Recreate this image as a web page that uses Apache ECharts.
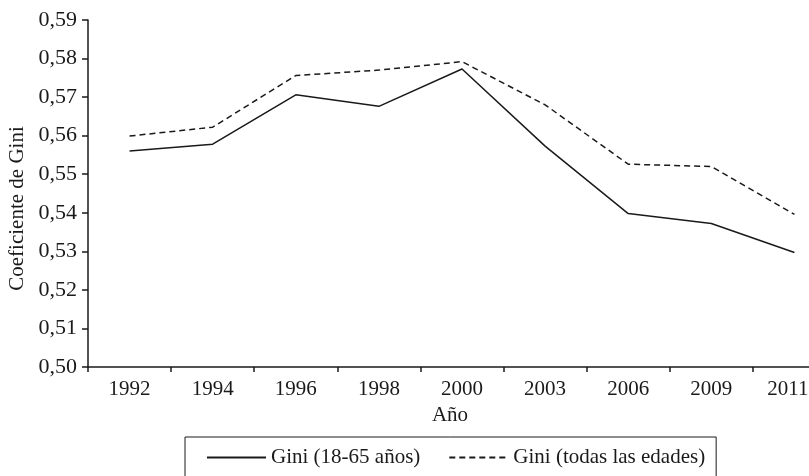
<!DOCTYPE html>
<html>
<head>
<meta charset="utf-8">
<script src="https://cdn.jsdelivr.net/npm/echarts@6/dist/echarts.min.js"></script>
<style>
  html, body { margin: 0; padding: 0; background: #fff; }
  #chart { width: 809px; height: 476px; }
</style>
</head>
<body>
<div id="chart"></div>
<script>
// datos
const years = ['1992', '1994', '1996', '1998', '2000', '2003', '2006', '2009', '2011']
const giniAdultos = [0.5560, 0.5578, 0.5706, 0.5676, 0.5773, 0.5573, 0.5398, 0.5372, 0.5297]
const giniTodas = [0.5599, 0.5622, 0.5756, 0.5770, 0.5792, 0.5680, 0.5526, 0.5520, 0.5396]
const seriesNames = ['Gini (18-65 años)', 'Gini (todas las edades)']

const font = 'Liberation Serif'
const ink = '#1a1a1a'

// el último año se corre un poco a la izquierda para que quepa
const yearData = years.map((y, i) =>
  i === years.length - 1 ? { value: y, textStyle: { padding: [0, 13, 0, 0] } } : y
)

const chart = echarts.init(document.getElementById('chart'))

const option = {
  animation: false,
  grid: {
    left: 88,
    width: 748,   // el eje sigue más allá del borde derecho
    top: 20,
    bottom: 109,
    outerBoundsMode: 'none'
  },
  legend: {
    left: 185,
    top: 437,
    width: 533,
    padding: [10, 11, 40, 21],
    itemWidth: 59,
    itemHeight: 20,
    itemGap: 28,
    borderColor: ink,
    borderWidth: 1,
    itemStyle: { opacity: 0, borderWidth: 0 },
    textStyle: { fontFamily: font, fontSize: 21, color: ink },
    data: seriesNames
  },
  xAxis: {
    type: 'category',
    data: yearData,
    boundaryGap: true,
    name: 'Año',
    nameLocation: 'middle',
    nameGap: 35,
    nameTextStyle: { fontFamily: font, fontSize: 21, color: ink, padding: [0, 24, 0, 0] },
    axisLine: { lineStyle: { color: ink, width: 1.5 } },
    axisTick: { show: true, length: 5, alignWithLabel: false, lineStyle: { color: ink, width: 1.5 } },
    axisLabel: { fontFamily: font, fontSize: 21, color: ink, margin: 12 },
    splitLine: { show: false }
  },
  yAxis: {
    type: 'value',
    min: 0.5,
    max: 0.59,
    interval: 0.01,
    name: 'Coeficiente de Gini',
    nameLocation: 'middle',
    nameGap: 60,
    nameTextStyle: { fontFamily: font, fontSize: 21, color: ink, padding: [0, 30, 0, 0] },
    axisLine: { show: true, lineStyle: { color: ink, width: 1.5 } },
    axisTick: { show: true, length: 6, lineStyle: { color: ink, width: 1.5 } },
    axisLabel: {
      fontFamily: font,
      fontSize: 22,
      color: ink,
      margin: 11,
      formatter: v => v.toFixed(2).replace('.', ',')
    },
    splitLine: { show: false }
  },
  series: [
    {
      name: seriesNames[0],
      type: 'line',
      data: giniAdultos,
      symbol: 'none',
      lineStyle: { color: ink, width: 1.5, type: 'solid' },
      itemStyle: { color: ink }
    },
    {
      name: seriesNames[1],
      type: 'line',
      data: giniTodas,
      symbol: 'none',
      lineStyle: { color: ink, width: 1.5, type: [6, 4] },
      itemStyle: { color: ink }
    }
  ]
}

chart.setOption(option)
</script>
</body>
</html>
